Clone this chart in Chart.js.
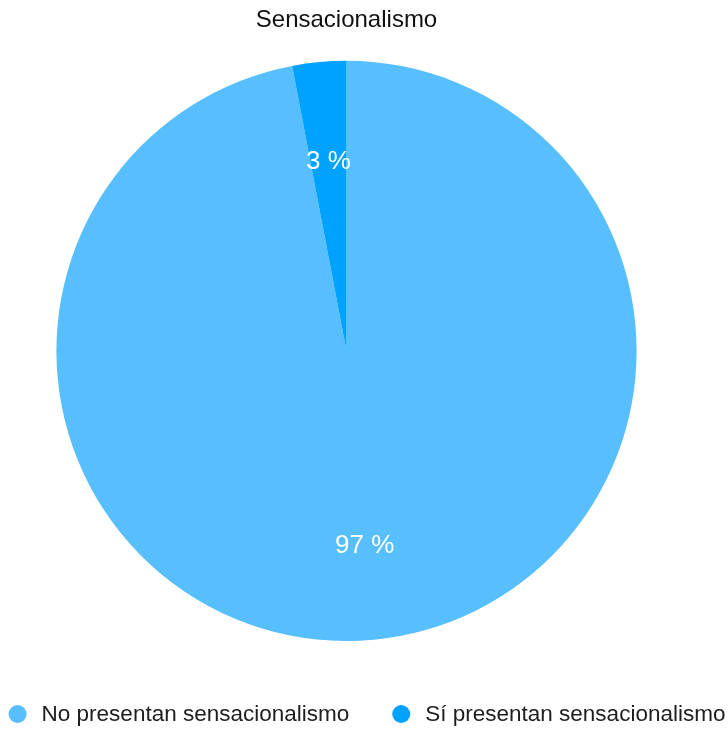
<!DOCTYPE html>
<html lang="es">
<head>
  <meta charset="UTF-8">
  <title>Sensacionalismo</title>
  <script src="https://cdn.jsdelivr.net/npm/chart.js"></script>
  <style>
    html, body { margin: 0; padding: 0; background: #fff; }
    #wrap { width: 728px; height: 729px; }
  </style>
</head>
<body>
  <div id="wrap"><canvas id="pie"></canvas></div>
  <script>
    const chartTitle = 'Sensacionalismo';
    const categories = ['No presentan sensacionalismo', 'Sí presentan sensacionalismo'];
    const percentages = [97, 3];
    const colors = ['#57BFFE', '#00A2FF'];
    const FONT = '"Liberation Sans", Arial, Helvetica, sans-serif';

    // white "xx %" labels inside each slice
    const sliceLabels = {
      id: 'sliceLabels',
      afterDatasetsDraw(chart) {
        const ctx = chart.ctx;
        const meta = chart.getDatasetMeta(0);
        ctx.save();
        ctx.font = '26px ' + FONT;
        ctx.fillStyle = '#fff';
        ctx.textAlign = 'center';
        ctx.textBaseline = 'middle';
        meta.data.forEach((arc, i) => {
          const mid = (arc.startAngle + arc.endAngle) / 2;
          const r = arc.outerRadius * 0.665;
          ctx.fillText(percentages[i] + ' %', arc.x + Math.cos(mid) * r, arc.y + Math.sin(mid) * r + 3);
        });
        ctx.restore();
      }
    };

    // legend across the full canvas width (pie area is padded on the right)
    const bottomLegend = {
      id: 'bottomLegend',
      afterDraw(chart) {
        const ctx = chart.ctx;
        const dot = 9, gap = 15, itemGap = 43;
        ctx.save();
        ctx.font = '22.5px ' + FONT;
        const widths = categories.map(c => dot * 2 + gap + ctx.measureText(c).width);
        const total = widths.reduce((a, b) => a + b, 0) + itemGap * (categories.length - 1);
        let x = (chart.width - total) / 2 + 3;
        const y = chart.height - 15;
        ctx.textBaseline = 'middle';
        categories.forEach((c, i) => {
          ctx.fillStyle = colors[i];
          ctx.beginPath();
          ctx.arc(x + dot, y, dot, 0, Math.PI * 2);
          ctx.fill();
          ctx.fillStyle = '#1e1e1e';
          ctx.fillText(c, x + dot * 2 + gap, y + 1);
          x += widths[i] + itemGap;
        });
        ctx.restore();
      }
    };

    new Chart(document.getElementById('pie'), {
      type: 'pie',
      data: {
        labels: categories,
        datasets: [{
          data: percentages,
          backgroundColor: colors,
          borderWidth: 0,
          hoverOffset: 0
        }]
      },
      options: {
        responsive: true,
        maintainAspectRatio: false,
        animation: false,
        layout: { padding: { left: 0, right: 35, top: 0, bottom: 88 } },
        plugins: {
          legend: { display: false },
          tooltip: { enabled: false },
          title: {
            display: true,
            text: chartTitle,
            color: '#111',
            font: { family: FONT, size: 24, weight: 'normal' },
            padding: { top: 6, bottom: 26 }
          }
        }
      },
      plugins: [sliceLabels, bottomLegend]
    });
  </script>
</body>
</html>
